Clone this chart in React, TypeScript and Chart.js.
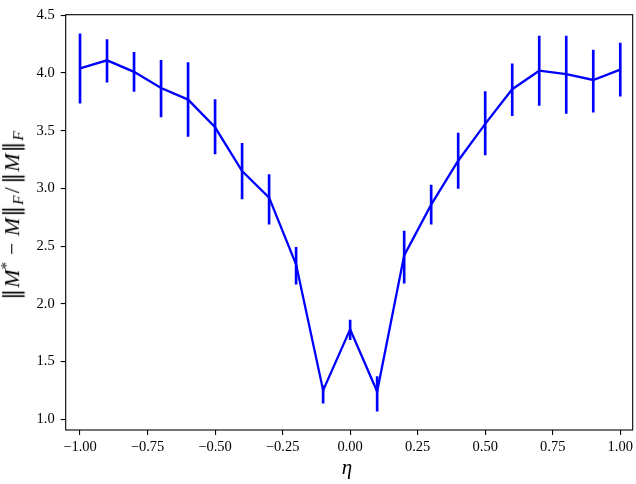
import React, { useEffect, useRef } from "react";
import { Chart, registerables } from "chart.js";

Chart.register(...registerables);

const etaValues = [-1.0, -0.9, -0.8, -0.7, -0.6, -0.5, -0.4, -0.3, -0.2, -0.1, 0.0, 0.1, 0.2, 0.3, 0.4, 0.5, 0.6, 0.7, 0.8, 0.9, 1.0];
const meanError = [4.04, 4.11, 4.01, 3.87, 3.77, 3.53, 3.15, 2.92, 2.34, 1.25, 1.78, 1.24, 2.42, 2.86, 3.24, 3.56, 3.86, 4.02, 3.99, 3.94, 4.03];
const lowError = [3.74, 3.92, 3.84, 3.62, 3.45, 3.30, 2.91, 2.69, 2.17, 1.14, 1.69, 1.07, 2.18, 2.69, 3.00, 3.29, 3.63, 3.72, 3.65, 3.66, 3.80];
const highError = [4.34, 4.29, 4.18, 4.11, 4.09, 3.77, 3.39, 3.12, 2.49, 1.29, 1.86, 1.37, 2.63, 3.03, 3.48, 3.84, 4.08, 4.32, 4.32, 4.20, 4.26];

const xTicks = [-1.0, -0.75, -0.5, -0.25, 0.0, 0.25, 0.5, 0.75, 1.0];
const xTickLabels = ["\u22121.00", "\u22120.75", "\u22120.50", "\u22120.25", "0.00", "0.25", "0.50", "0.75", "1.00"];
const yTicks = [1.0, 1.5, 2.0, 2.5, 3.0, 3.5, 4.0, 4.5];
const yTickLabels = ["1.0", "1.5", "2.0", "2.5", "3.0", "3.5", "4.0", "4.5"];

const BLUE = "#0000ff";
const FONT = "'Liberation Serif', 'DejaVu Serif', serif";

const framePlugin = {
  id: "frame",
  afterDraw(chart: any) {
    const { ctx, chartArea } = chart;
    ctx.save();
    ctx.strokeStyle = "#000";
    ctx.lineWidth = 1.1;
    ctx.strokeRect(chartArea.left, chartArea.top, chartArea.right - chartArea.left, chartArea.bottom - chartArea.top);
    ctx.restore();
  },
};

export default function App() {
  const canvasRef = useRef<HTMLCanvasElement | null>(null);

  useEffect(() => {
    if (!canvasRef.current) return;
    const chart = new Chart(canvasRef.current, {
      type: "line",
      data: {
        datasets: [
          {
            type: "line",
            data: etaValues.map((x, i) => ({ x, y: meanError[i] })),
            borderColor: BLUE,
            borderWidth: 2.3,
            pointRadius: 0,
            tension: 0,
            fill: false,
            order: 1,
          } as any,
          {
            type: "bar",
            data: etaValues.map((x, i) => ({ x, y: [lowError[i], highError[i]] })),
            backgroundColor: BLUE,
            borderWidth: 0,
            barThickness: 2,
            order: 2,
          } as any,
        ],
      },
      options: {
        animation: false,
        responsive: false,
        devicePixelRatio: 1,
        layout: { padding: { left: 0, right: 2, top: 6, bottom: 0 } },
        plugins: { legend: { display: false }, tooltip: { enabled: false } },
        scales: {
          x: {
            type: "linear",
            min: -1.053,
            max: 1.046,
            offset: false,
            border: { display: false },
            grid: { drawOnChartArea: false, drawTicks: true, tickLength: 5, color: "#000", lineWidth: 1.1, offset: false },
            afterBuildTicks: (scale: any) => {
              scale.ticks = xTicks.map((value) => ({ value }));
            },
            afterFit: (scale: any) => {
              scale.height = 54;
            },
            ticks: {
              autoSkip: false,
              maxRotation: 0,
              color: "#000",
              padding: 3,
              font: { family: FONT, size: 14.5 },
              callback: (_v: any, i: number) => xTickLabels[i],
            },
          },
          y: {
            type: "linear",
            min: 0.907,
            max: 4.5055,
            border: { display: false },
            grid: { drawOnChartArea: false, drawTicks: true, tickLength: 5, color: "#000", lineWidth: 1.1 },
            afterBuildTicks: (scale: any) => {
              scale.ticks = yTicks.map((value) => ({ value }));
            },
            afterFit: (scale: any) => {
              scale.width = 65.7;
            },
            ticks: {
              autoSkip: false,
              color: "#000",
              padding: 6,
              font: { family: FONT, size: 14.5 },
              callback: (_v: any, i: number) => yTickLabels[i],
            },
          },
        },
      },
      plugins: [framePlugin],
    } as any);
    return () => chart.destroy();
  }, []);

  const labelStyle: React.CSSProperties = {
    position: "absolute",
    fontFamily: FONT,
    fontSize: 22,
    color: "#000",
    whiteSpace: "nowrap",
    lineHeight: 1,
  };
  const norm: React.CSSProperties = { fontFamily: "'DejaVu Serif', serif", fontStyle: "normal", fontWeight: 300, margin: "0 1px" };
  const sub: React.CSSProperties = { fontSize: "0.7em", fontStyle: "italic", verticalAlign: "-0.3em" };
  const sup: React.CSSProperties = { fontSize: "0.7em", verticalAlign: "0.5em" };
  const op: React.CSSProperties = { margin: "0 0.3em" };
  const slash: React.CSSProperties = { margin: "0 0.1em" };
  const N = () => <span style={norm}>{"\u2016"}</span>;

  return (
    <div style={{ position: "fixed", left: 0, top: 0, width: 636, height: 484, background: "#fff" }}>
      <canvas ref={canvasRef} width={636} height={484} style={{ width: 636, height: 484, display: "block" }} />
      <div
        style={{
          ...labelStyle,
          left: 12,
          top: 216,
          transform: "translate(-50%, -50%) rotate(-90deg)",
        }}
      >
        <N /><i>M</i><span style={sup}>*</span><span style={op}>{"\u2212"}</span><i>M</i><N /><span style={sub}>F</span><span style={slash}>/</span><N /><i>M</i><N /><span style={sub}>F</span>
      </div>
      <div style={{ ...labelStyle, fontSize: 21, left: 347, top: 467, transform: "translate(-50%, -50%)" }}>
        <i>η</i>
      </div>
    </div>
  );
}
